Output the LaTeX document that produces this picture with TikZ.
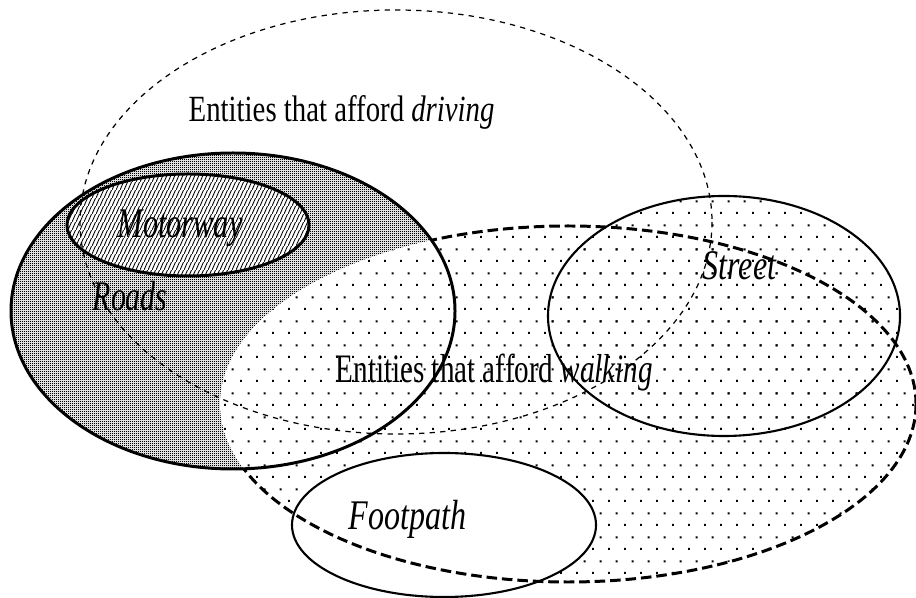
\documentclass[tikz,border=0pt]{standalone}
\usepackage{graphicx}
\usepackage{fontspec}
\setmainfont{Liberation Serif}
\usetikzlibrary{patterns}
\pgfdeclarepatternformonly{sparsedots}{\pgfqpoint{0pt}{0pt}}{\pgfqpoint{4.552pt}{6.828pt}}{\pgfqpoint{4.552pt}{6.828pt}}{%
  \pgfpathrectangle{\pgfqpoint{0pt}{0pt}}{\pgfqpoint{0.6pt}{0.6pt}}%
  \pgfpathrectangle{\pgfqpoint{2.276pt}{3.414pt}}{\pgfqpoint{0.6pt}{0.6pt}}%
  \pgfusepath{fill}}
\pgfdeclarepatternformonly{densedots}{\pgfqpoint{0pt}{0pt}}{\pgfqpoint{0.569pt}{0.569pt}}{\pgfqpoint{0.569pt}{0.569pt}}{%
  \pgfpathrectangle{\pgfqpoint{0pt}{0pt}}{\pgfqpoint{0.33pt}{0.33pt}}%
  \pgfpathrectangle{\pgfqpoint{0.2845pt}{0.2845pt}}{\pgfqpoint{0.33pt}{0.33pt}}%
  \pgfusepath{fill}}
\pgfdeclarepatternformonly{steephatch}{\pgfqpoint{0pt}{0pt}}{\pgfqpoint{1.138pt}{2.276pt}}{\pgfqpoint{1.138pt}{2.276pt}}{%
  \pgfsetlinewidth{0.3pt}%
  \pgfpathmoveto{\pgfqpoint{-0.569pt}{-1.138pt}}%
  \pgfpathlineto{\pgfqpoint{1.707pt}{3.414pt}}%
  \pgfusepath{stroke}}
\tikzset{
  lbl/.style={inner sep=0pt, anchor=base west},
  solidthick/.style={draw=black, line width=0.85pt},
  solidthin/.style={draw=black, line width=0.6pt},
  walkline/.style={draw=black, line width=0.85pt, dash pattern=on 3pt off 1.4pt},
  driveline/.style={draw=black, line width=0.35pt, dash pattern=on 1.5pt off 1.5pt},
}
\begin{document}
\begin{tikzpicture}[x=0.01cm,y=-0.01cm]
\useasboundingbox (0,0) rectangle (916,598);
\fill[white] (0,0) rectangle (916,598);
\begin{scope}
\clip (0,0) rectangle (916,598);
% walking region fill
\fill[pattern=sparsedots] (568,404) ellipse [x radius=348, y radius=178];
% street fill
\fill[pattern=sparsedots] (724,316) ellipse [x radius=176, y radius=120];
% footpath white
\fill[white] (444,525) ellipse [x radius=152, y radius=72];
% walking outline
\path[walkline] (568,404) ellipse [x radius=348, y radius=178];
% roads fill
\fill[white] (233,311) ellipse [x radius=222, y radius=158];
\fill[pattern=densedots] (233,311) ellipse [x radius=222, y radius=158];
% motorway fill
\fill[white] (188,225) ellipse [x radius=121, y radius=51];
\fill[pattern=steephatch] (188,225) ellipse [x radius=121, y radius=51];
% intersection roads & walking
\begin{scope}
\clip (233,311) ellipse [x radius=222, y radius=158];
\fill[white] (568,404) ellipse [x radius=348, y radius=178];
\fill[pattern=sparsedots] (568,404) ellipse [x radius=348, y radius=178];
\end{scope}
% outlines
\path[solidthick] (233,311) ellipse [x radius=222, y radius=158];
\path[solidthick] (188,225) ellipse [x radius=121, y radius=51];
\path[solidthin] (724,316) ellipse [x radius=176, y radius=120];
\path[solidthin] (444,525) ellipse [x radius=152, y radius=72];
\path[driveline] (396,222) ellipse [x radius=316, y radius=212];
\end{scope}
% labels
\node[lbl] (tdrive) at (188,122) {\fontsize{10.5}{12}\selectfont\scalebox{0.78}[1]{Entities that afford \textit{driving}}};
\node[lbl] (twalk) at (335,383) {\fontsize{11.5}{13}\selectfont\scalebox{0.72}[1]{Entities that afford \textit{walking}}};
\node[lbl] (tstreet) at (702,280) {\fontsize{12}{14}\selectfont\scalebox{0.76}[1]{\textit{Street}}};
\node[lbl] (tmotor) at (117,238) {\fontsize{12}{14}\selectfont\scalebox{0.72}[1]{\textit{Motorway}}};
\node[lbl] (troads) at (92,311) {\fontsize{12}{14}\selectfont\scalebox{0.71}[1]{\textit{Roads}}};
\node[lbl] (tfoot) at (348,530) {\fontsize{12}{14}\selectfont\scalebox{0.76}[1]{\textit{Footpath}}};
\end{tikzpicture}
\end{document}
